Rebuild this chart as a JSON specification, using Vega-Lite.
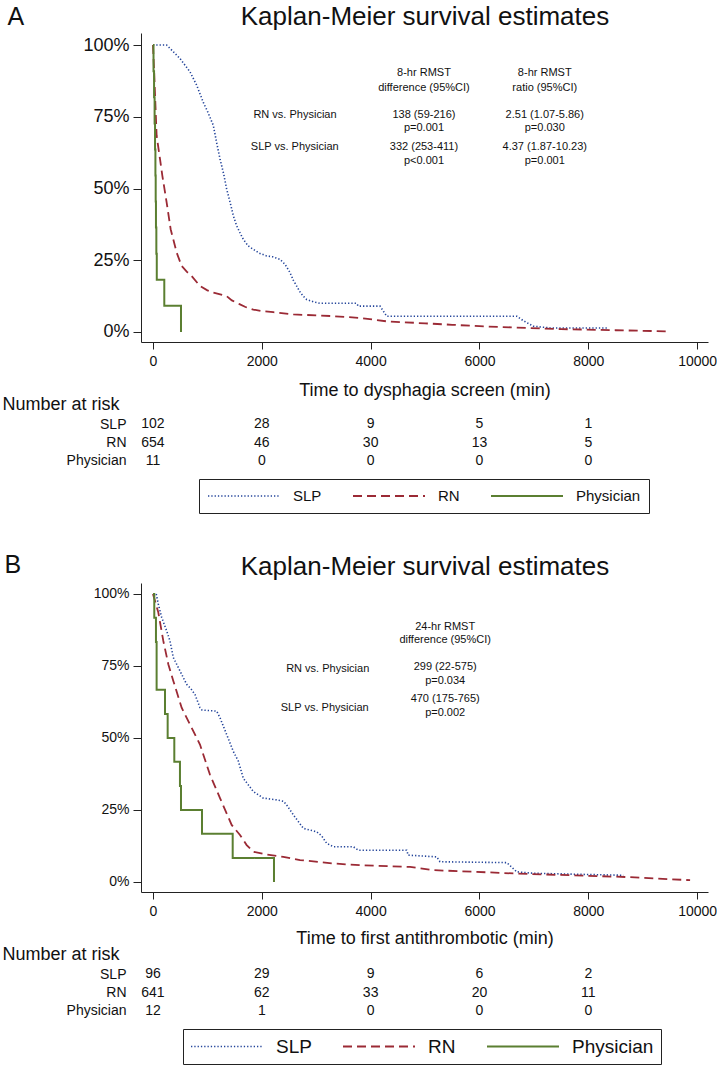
{
  "$schema": "https://vega.github.io/schema/vega-lite/v6.json",
  "background": "white",
  "padding": {"left": 2, "top": 3, "right": 0, "bottom": 0},
  "config": {
    "font": "Liberation Sans",
    "view": {"stroke": null},
    "axis": {"grid": false, "domainColor": "#222", "tickColor": "#222", "labelColor": "#111", "titleColor": "#111", "titleFontWeight": "normal", "labelFont": "Liberation Sans", "titleFont": "Liberation Sans", "labelFlush": false},
    "legend": {"labelFont": "Liberation Sans", "labelColor": "#111"},
    "text": {"font": "Liberation Sans"}
  },
  "datasets": {
    "kmA": [
      {"g":"SLP","t":0,"s":1},{"g":"SLP","t":250,"s":1},{"g":"SLP","t":373,"s":0.977},{"g":"SLP","t":496,"s":0.953},{"g":"SLP","t":680,"s":0.907},{"g":"SLP","t":803,"s":0.86},{"g":"SLP","t":925,"s":0.8},{"g":"SLP","t":1000,"s":0.77},{"g":"SLP","t":1109,"s":0.72},{"g":"SLP","t":1170,"s":0.66},{"g":"SLP","t":1232,"s":0.603},{"g":"SLP","t":1300,"s":0.55},{"g":"SLP","t":1354,"s":0.498},{"g":"SLP","t":1420,"s":0.45},{"g":"SLP","t":1477,"s":0.405},{"g":"SLP","t":1538,"s":0.37},{"g":"SLP","t":1600,"s":0.345},{"g":"SLP","t":1660,"s":0.323},{"g":"SLP","t":1750,"s":0.3},{"g":"SLP","t":1844,"s":0.288},{"g":"SLP","t":1950,"s":0.275},{"g":"SLP","t":2089,"s":0.265},{"g":"SLP","t":2200,"s":0.262},{"g":"SLP","t":2335,"s":0.253},{"g":"SLP","t":2430,"s":0.235},{"g":"SLP","t":2518,"s":0.207},{"g":"SLP","t":2580,"s":0.18},{"g":"SLP","t":2641,"s":0.16},{"g":"SLP","t":2700,"s":0.14},{"g":"SLP","t":2760,"s":0.125},{"g":"SLP","t":2825,"s":0.113},{"g":"SLP","t":2950,"s":0.105},{"g":"SLP","t":3070,"s":0.1},{"g":"SLP","t":3740,"s":0.1},{"g":"SLP","t":3775,"s":0.09},{"g":"SLP","t":4173,"s":0.09},{"g":"SLP","t":4295,"s":0.055},{"g":"SLP","t":6686,"s":0.055},{"g":"SLP","t":6800,"s":0.04},{"g":"SLP","t":6991,"s":0.02},{"g":"SLP","t":7300,"s":0.014},{"g":"SLP","t":8340,"s":0.014},
      {"g":"RN","t":0,"s":1},{"g":"RN","t":24,"s":0.895},{"g":"RN","t":67,"s":0.685},{"g":"RN","t":129,"s":0.603},{"g":"RN","t":172,"s":0.545},{"g":"RN","t":251,"s":0.452},{"g":"RN","t":325,"s":0.358},{"g":"RN","t":435,"s":0.277},{"g":"RN","t":527,"s":0.23},{"g":"RN","t":620,"s":0.21},{"g":"RN","t":711,"s":0.195},{"g":"RN","t":864,"s":0.16},{"g":"RN","t":1000,"s":0.145},{"g":"RN","t":1109,"s":0.137},{"g":"RN","t":1354,"s":0.125},{"g":"RN","t":1450,"s":0.11},{"g":"RN","t":1599,"s":0.096},{"g":"RN","t":1700,"s":0.087},{"g":"RN","t":1844,"s":0.078},{"g":"RN","t":2000,"s":0.073},{"g":"RN","t":2212,"s":0.069},{"g":"RN","t":2580,"s":0.061},{"g":"RN","t":3000,"s":0.058},{"g":"RN","t":3315,"s":0.055},{"g":"RN","t":3805,"s":0.049},{"g":"RN","t":4295,"s":0.037},{"g":"RN","t":5000,"s":0.03},{"g":"RN","t":5500,"s":0.025},{"g":"RN","t":6000,"s":0.02},{"g":"RN","t":6869,"s":0.014},{"g":"RN","t":7500,"s":0.01},{"g":"RN","t":8500,"s":0.006},{"g":"RN","t":9504,"s":0.002}
    ],
    "phA": [
      {"g":"Physician","t":0,"s":1},{"g":"Physician","t":10,"s":0.909},{"g":"Physician","t":20,"s":0.818},{"g":"Physician","t":30,"s":0.727},{"g":"Physician","t":38,"s":0.636},{"g":"Physician","t":45,"s":0.545},{"g":"Physician","t":50,"s":0.455},{"g":"Physician","t":55,"s":0.364},{"g":"Physician","t":62,"s":0.273},{"g":"Physician","t":70,"s":0.182},{"g":"Physician","t":208,"s":0.091},{"g":"Physician","t":515,"s":0}
    ],
    "kmB": [
      {"g":"SLP","t":0,"s":1},{"g":"SLP","t":60,"s":1},{"g":"SLP","t":98,"s":0.965},{"g":"SLP","t":159,"s":0.919},{"g":"SLP","t":251,"s":0.872},{"g":"SLP","t":312,"s":0.837},{"g":"SLP","t":374,"s":0.779},{"g":"SLP","t":435,"s":0.756},{"g":"SLP","t":527,"s":0.721},{"g":"SLP","t":619,"s":0.686},{"g":"SLP","t":700,"s":0.67},{"g":"SLP","t":772,"s":0.651},{"g":"SLP","t":864,"s":0.605},{"g":"SLP","t":900,"s":0.597},{"g":"SLP","t":1171,"s":0.593},{"g":"SLP","t":1232,"s":0.57},{"g":"SLP","t":1354,"s":0.512},{"g":"SLP","t":1477,"s":0.453},{"g":"SLP","t":1569,"s":0.419},{"g":"SLP","t":1660,"s":0.36},{"g":"SLP","t":1844,"s":0.314},{"g":"SLP","t":2028,"s":0.291},{"g":"SLP","t":2273,"s":0.285},{"g":"SLP","t":2400,"s":0.28},{"g":"SLP","t":2457,"s":0.267},{"g":"SLP","t":2580,"s":0.233},{"g":"SLP","t":2764,"s":0.186},{"g":"SLP","t":3009,"s":0.174},{"g":"SLP","t":3100,"s":0.16},{"g":"SLP","t":3193,"s":0.134},{"g":"SLP","t":3315,"s":0.122},{"g":"SLP","t":3683,"s":0.122},{"g":"SLP","t":3775,"s":0.11},{"g":"SLP","t":4663,"s":0.11},{"g":"SLP","t":4690,"s":0.093},{"g":"SLP","t":5214,"s":0.087},{"g":"SLP","t":5275,"s":0.07},{"g":"SLP","t":6502,"s":0.067},{"g":"SLP","t":6600,"s":0.05},{"g":"SLP","t":6686,"s":0.035},{"g":"SLP","t":7000,"s":0.03},{"g":"SLP","t":8645,"s":0.023},
      {"g":"RN","t":0,"s":1},{"g":"RN","t":98,"s":0.936},{"g":"RN","t":190,"s":0.837},{"g":"RN","t":282,"s":0.756},{"g":"RN","t":374,"s":0.698},{"g":"RN","t":527,"s":0.605},{"g":"RN","t":711,"s":0.535},{"g":"RN","t":864,"s":0.477},{"g":"RN","t":1048,"s":0.372},{"g":"RN","t":1232,"s":0.291},{"g":"RN","t":1446,"s":0.198},{"g":"RN","t":1599,"s":0.163},{"g":"RN","t":1722,"s":0.128},{"g":"RN","t":1844,"s":0.105},{"g":"RN","t":2089,"s":0.095},{"g":"RN","t":2396,"s":0.087},{"g":"RN","t":2703,"s":0.076},{"g":"RN","t":3315,"s":0.064},{"g":"RN","t":3805,"s":0.058},{"g":"RN","t":4724,"s":0.052},{"g":"RN","t":5153,"s":0.041},{"g":"RN","t":6686,"s":0.029},{"g":"RN","t":8707,"s":0.017},{"g":"RN","t":9871,"s":0.006}
    ],
    "phB": [
      {"g":"Physician","t":0,"s":1},{"g":"Physician","t":24,"s":0.917},{"g":"Physician","t":55,"s":0.833},{"g":"Physician","t":67,"s":0.667},{"g":"Physician","t":221,"s":0.583},{"g":"Physician","t":270,"s":0.5},{"g":"Physician","t":392,"s":0.417},{"g":"Physician","t":496,"s":0.333},{"g":"Physician","t":515,"s":0.25},{"g":"Physician","t":901,"s":0.167},{"g":"Physician","t":1465,"s":0.083},{"g":"Physician","t":2224,"s":0}
    ],
    "annA": [
      {"t":2610,"s":0.757,"label":"RN vs. Physician"},
      {"t":2605,"s":0.644,"label":"SLP vs. Physician"},
      {"t":4980,"s":0.901,"label":"8-hr RMST"},
      {"t":4980,"s":0.851,"label":"difference (95%CI)"},
      {"t":4980,"s":0.757,"label":"138 (59-216)"},
      {"t":4980,"s":0.711,"label":"p=0.001"},
      {"t":4980,"s":0.644,"label":"332 (253-411)"},
      {"t":4980,"s":0.597,"label":"p<0.001"},
      {"t":7200,"s":0.901,"label":"8-hr RMST"},
      {"t":7200,"s":0.851,"label":"ratio (95%CI)"},
      {"t":7200,"s":0.757,"label":"2.51 (1.07-5.86)"},
      {"t":7200,"s":0.711,"label":"p=0.030"},
      {"t":7200,"s":0.644,"label":"4.37 (1.87-10.23)"},
      {"t":7200,"s":0.597,"label":"p=0.001"}
    ],
    "annB": [
      {"t":3211,"s":0.741,"label":"RN vs. Physician"},
      {"t":3156,"s":0.605,"label":"SLP vs. Physician"},
      {"t":5370,"s":0.884,"label":"24-hr RMST"},
      {"t":5370,"s":0.84,"label":"difference (95%CI)"},
      {"t":5370,"s":0.747,"label":"299 (22-575)"},
      {"t":5370,"s":0.698,"label":"p=0.034"},
      {"t":5370,"s":0.634,"label":"470 (175-765)"},
      {"t":5370,"s":0.587,"label":"p=0.002"}
    ],
    "riskA": [
      {"g":"SLP","t":0,"n":102},{"g":"SLP","t":2000,"n":28},{"g":"SLP","t":4000,"n":9},{"g":"SLP","t":6000,"n":5},{"g":"SLP","t":8000,"n":1},
      {"g":"RN","t":0,"n":654},{"g":"RN","t":2000,"n":46},{"g":"RN","t":4000,"n":30},{"g":"RN","t":6000,"n":13},{"g":"RN","t":8000,"n":5},
      {"g":"Physician","t":0,"n":11},{"g":"Physician","t":2000,"n":0},{"g":"Physician","t":4000,"n":0},{"g":"Physician","t":6000,"n":0},{"g":"Physician","t":8000,"n":0}
    ],
    "riskB": [
      {"g":"SLP","t":0,"n":96},{"g":"SLP","t":2000,"n":29},{"g":"SLP","t":4000,"n":9},{"g":"SLP","t":6000,"n":6},{"g":"SLP","t":8000,"n":2},
      {"g":"RN","t":0,"n":641},{"g":"RN","t":2000,"n":62},{"g":"RN","t":4000,"n":33},{"g":"RN","t":6000,"n":20},{"g":"RN","t":8000,"n":11},
      {"g":"Physician","t":0,"n":12},{"g":"Physician","t":2000,"n":1},{"g":"Physician","t":4000,"n":0},{"g":"Physician","t":6000,"n":0},{"g":"Physician","t":8000,"n":0}
    ]
  },
  "bounds": "flush",
  "spacing": 73,
  "resolve": {
    "scale": {"color": "independent", "strokeDash": "independent", "strokeWidth": "independent"},
    "legend": {"color": "independent", "strokeDash": "independent", "strokeWidth": "independent"}
  },
  "vconcat": [
    {
      "width": 567,
      "height": 309,
      "resolve": {"axis": {"x": "independent", "y": "independent"}},
      "layer": [
        {
          "data": {"name": "kmA"},
          "mark": {"type": "line", "interpolate": "linear"},
          "encoding": {
            "x": {"field": "t", "type": "quantitative", "scale": {"domain": [-220, 10200], "nice": false, "zero": false},
              "axis": {"values": [0, 2000, 4000, 6000, 8000, 10000], "format": "d", "labelFontSize": 14, "tickSize": 7, "labelPadding": 5, "title": "Time to dysphagia screen (min)", "titleFontSize": 18, "titleX": 283.5, "titleY": 53, "titleBaseline": "alphabetic", "titleAlign": "center"}},
            "y": {"field": "s", "type": "quantitative", "scale": {"domain": [-0.035, 1.042], "nice": false, "zero": false},
              "axis": {"values": [0, 0.25, 0.5, 0.75, 1], "format": ".0%", "labelFontSize": 18, "tickSize": 8, "labelPadding": 4, "title": "A", "titleAngle": 0, "titleAlign": "left", "titleBaseline": "alphabetic", "titleX": -134, "titleY": -8.7, "titleFontSize": 25}},
            "color": {"field": "g", "type": "nominal", "scale": {"domain": ["SLP", "RN", "Physician"], "range": ["#23449a", "#9b2a35", "#5b7f31"]},
              "legend": {"title": null, "orient": "none", "legendX": 58, "legendY": 446, "direction": "horizontal", "symbolType": "stroke", "symbolSize": 5184, "clipHeight": 18, "labelFontSize": 15, "labelOffset": 12, "columnPadding": 30, "padding": 8, "strokeColor": "#222"}},
            "strokeDash": {"field": "g", "type": "nominal", "scale": {"domain": ["SLP", "RN", "Physician"], "range": [[1.3, 2], [9, 5], [1, 0]]},
              "legend": {"title": null, "orient": "none", "legendX": 58, "legendY": 446, "direction": "horizontal", "symbolType": "stroke", "symbolSize": 5184, "clipHeight": 18, "labelFontSize": 15, "labelOffset": 12, "columnPadding": 30, "padding": 8, "strokeColor": "#222"}},
            "strokeWidth": {"field": "g", "type": "nominal", "scale": {"domain": ["SLP", "RN", "Physician"], "range": [1.6, 2, 1.6]},
              "legend": {"title": null, "orient": "none", "legendX": 58, "legendY": 446, "direction": "horizontal", "symbolType": "stroke", "symbolSize": 5184, "clipHeight": 18, "labelFontSize": 15, "labelOffset": 12, "columnPadding": 30, "padding": 8, "strokeColor": "#222"}}
          }
        },
        {
          "data": {"name": "phA"},
          "mark": {"type": "line", "interpolate": "step-after"},
          "encoding": {
            "x": {"field": "t", "type": "quantitative", "axis": null},
            "y": {"field": "s", "type": "quantitative", "axis": null},
            "color": {"field": "g", "type": "nominal"},
            "strokeDash": {"field": "g", "type": "nominal"},
            "strokeWidth": {"field": "g", "type": "nominal"}
          }
        },
        {
          "data": {"name": "annA"},
          "mark": {"type": "text", "fontSize": 11, "color": "#111", "align": "center", "baseline": "middle"},
          "encoding": {
            "x": {"field": "t", "type": "quantitative",
              "axis": {"orient": "top", "title": "Kaplan-Meier survival estimates", "labels": false, "ticks": false, "domain": false, "grid": false, "titleFontSize": 26, "titleX": 283.5, "titleY": -8.7, "titleBaseline": "alphabetic", "titleAlign": "center"}},
            "y": {"field": "s", "type": "quantitative", "axis": null},
            "text": {"field": "label", "type": "nominal"}
          }
        }
      ]
    },
    {
      "width": 567,
      "height": 95,
      "data": {"name": "riskA"},
      "mark": {"type": "text", "fontSize": 14, "color": "#111", "align": "center", "baseline": "middle"},
      "encoding": {
        "x": {"field": "t", "type": "quantitative", "scale": {"domain": [-220, 10200], "nice": false, "zero": false}, "axis": null},
        "y": {"field": "g", "type": "nominal", "scale": {"type": "point", "domain": ["SLP", "RN", "Physician"], "range": [9.2, 45.8], "padding": 0},
          "axis": {"title": "Number at risk", "domain": false, "ticks": false, "tickSize": 0, "labelPadding": 15, "labelFontSize": 14, "titleAngle": 0, "titleAlign": "left", "titleBaseline": "middle", "titleX": -139, "titleY": -11, "titleFontSize": 18}},
        "text": {"field": "n", "type": "quantitative"}
      }
    },
    {
      "width": 567,
      "height": 309,
      "resolve": {"axis": {"x": "independent", "y": "independent"}},
      "layer": [
        {
          "data": {"name": "kmB"},
          "mark": {"type": "line", "interpolate": "linear"},
          "encoding": {
            "x": {"field": "t", "type": "quantitative", "scale": {"domain": [-220, 10200], "nice": false, "zero": false},
              "axis": {"values": [0, 2000, 4000, 6000, 8000, 10000], "format": "d", "labelFontSize": 14, "tickSize": 7, "labelPadding": 5, "title": "Time to first antithrombotic (min)", "titleFontSize": 18, "titleX": 283.5, "titleY": 51, "titleBaseline": "alphabetic", "titleAlign": "center"}},
            "y": {"field": "s", "type": "quantitative", "scale": {"domain": [-0.035, 1.038], "nice": false, "zero": false},
              "axis": {"values": [0, 0.25, 0.5, 0.75, 1], "format": ".0%", "labelFontSize": 14, "tickSize": 8, "labelPadding": 4, "title": "B", "titleAngle": 0, "titleAlign": "left", "titleBaseline": "alphabetic", "titleX": -137, "titleY": -10.3, "titleFontSize": 25}},
            "color": {"field": "g", "type": "nominal", "scale": {"domain": ["SLP", "RN", "Physician"], "range": ["#23449a", "#9b2a35", "#5b7f31"]},
              "legend": {"title": null, "orient": "none", "legendX": 42, "legendY": 446, "direction": "horizontal", "symbolType": "stroke", "symbolSize": 5184, "clipHeight": 21, "labelFontSize": 19, "labelOffset": 12, "columnPadding": 30, "padding": 7, "strokeColor": "#222"}},
            "strokeDash": {"field": "g", "type": "nominal", "scale": {"domain": ["SLP", "RN", "Physician"], "range": [[1.3, 2], [9, 5], [1, 0]]},
              "legend": {"title": null, "orient": "none", "legendX": 42, "legendY": 446, "direction": "horizontal", "symbolType": "stroke", "symbolSize": 5184, "clipHeight": 21, "labelFontSize": 19, "labelOffset": 12, "columnPadding": 30, "padding": 7, "strokeColor": "#222"}},
            "strokeWidth": {"field": "g", "type": "nominal", "scale": {"domain": ["SLP", "RN", "Physician"], "range": [1.6, 2, 1.6]},
              "legend": {"title": null, "orient": "none", "legendX": 42, "legendY": 446, "direction": "horizontal", "symbolType": "stroke", "symbolSize": 5184, "clipHeight": 21, "labelFontSize": 19, "labelOffset": 12, "columnPadding": 30, "padding": 7, "strokeColor": "#222"}}
          }
        },
        {
          "data": {"name": "phB"},
          "mark": {"type": "line", "interpolate": "step-after"},
          "encoding": {
            "x": {"field": "t", "type": "quantitative", "axis": null},
            "y": {"field": "s", "type": "quantitative", "axis": null},
            "color": {"field": "g", "type": "nominal"},
            "strokeDash": {"field": "g", "type": "nominal"},
            "strokeWidth": {"field": "g", "type": "nominal"}
          }
        },
        {
          "data": {"name": "annB"},
          "mark": {"type": "text", "fontSize": 11, "color": "#111", "align": "center", "baseline": "middle"},
          "encoding": {
            "x": {"field": "t", "type": "quantitative",
              "axis": {"orient": "top", "title": "Kaplan-Meier survival estimates", "labels": false, "ticks": false, "domain": false, "grid": false, "titleFontSize": 26, "titleX": 283.5, "titleY": -9, "titleBaseline": "alphabetic", "titleAlign": "center"}},
            "y": {"field": "s", "type": "quantitative", "axis": null},
            "text": {"field": "label", "type": "nominal"}
          }
        }
      ]
    },
    {
      "width": 567,
      "height": 95,
      "data": {"name": "riskB"},
      "mark": {"type": "text", "fontSize": 14, "color": "#111", "align": "center", "baseline": "middle"},
      "encoding": {
        "x": {"field": "t", "type": "quantitative", "scale": {"domain": [-220, 10200], "nice": false, "zero": false}, "axis": null},
        "y": {"field": "g", "type": "nominal", "scale": {"type": "point", "domain": ["SLP", "RN", "Physician"], "range": [9.2, 45.8], "padding": 0},
          "axis": {"title": "Number at risk", "domain": false, "ticks": false, "tickSize": 0, "labelPadding": 15, "labelFontSize": 14, "titleAngle": 0, "titleAlign": "left", "titleBaseline": "middle", "titleX": -139, "titleY": -11, "titleFontSize": 18}},
        "text": {"field": "n", "type": "quantitative"}
      }
    }
  ]
}
